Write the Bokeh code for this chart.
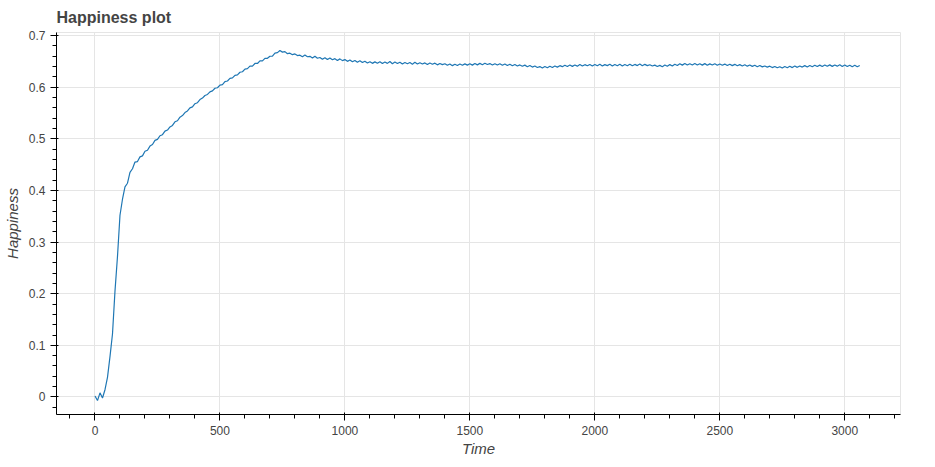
from bokeh.plotting import figure
from bokeh.models import Range1d
from bokeh.embed import file_html
from bokeh.resources import INLINE

time = list(range(0, 3070, 10))

happiness = [
    0.002, -0.007, 0.008, -0.002, 0.014, 0.038, 0.078, 0.122, 0.205, 0.272,
    0.352, 0.383, 0.407, 0.414, 0.435, 0.442, 0.455, 0.456, 0.465, 0.467,
    0.476, 0.478, 0.486, 0.489, 0.497, 0.499, 0.506, 0.508, 0.515, 0.517,
    0.523, 0.526, 0.533, 0.535, 0.542, 0.545, 0.551, 0.554, 0.560, 0.562,
    0.568, 0.570, 0.576, 0.579, 0.584, 0.586, 0.591, 0.593, 0.598, 0.599,
    0.604, 0.605, 0.611, 0.612, 0.617, 0.618, 0.623, 0.624, 0.629, 0.630,
    0.635, 0.636, 0.641, 0.641, 0.646, 0.646, 0.651, 0.651, 0.656, 0.656,
    0.660, 0.660, 0.666, 0.667, 0.671, 0.668, 0.669, 0.665, 0.666, 0.663,
    0.6645, 0.6613, 0.6621, 0.6589, 0.6622, 0.6590, 0.6598, 0.6565, 0.6600, 0.6561,
    0.6576, 0.6541, 0.6572, 0.6535, 0.6568, 0.6533, 0.6553, 0.6519, 0.6549, 0.6515,
    0.6535, 0.6501, 0.6527, 0.6492, 0.6519, 0.6485, 0.6511, 0.6477, 0.6503, 0.6470,
    0.6495, 0.6462, 0.6491, 0.6465, 0.6494, 0.6458, 0.6488, 0.6462, 0.6497, 0.6455,
    0.6487, 0.6458, 0.6485, 0.6451, 0.6480, 0.6456, 0.6479, 0.6447, 0.6482, 0.6450,
    0.6475, 0.6449, 0.6471, 0.6440, 0.6468, 0.6445, 0.6466, 0.6433, 0.6460, 0.6437,
    0.6455, 0.6425, 0.6450, 0.6418, 0.6446, 0.6421, 0.6449, 0.6425, 0.6452, 0.6428,
    0.6455, 0.6428, 0.6460, 0.6433, 0.6462, 0.6437, 0.6465, 0.6441, 0.6458, 0.6432,
    0.6456, 0.6429, 0.6453, 0.6425, 0.6450, 0.6420, 0.6445, 0.6416, 0.6440, 0.6411,
    0.6432, 0.6405, 0.6428, 0.6398, 0.6420, 0.6390, 0.6410, 0.6382, 0.6400, 0.6372,
    0.6400, 0.6376, 0.6405, 0.6382, 0.6412, 0.6389, 0.6418, 0.6398, 0.6425, 0.6402,
    0.6430, 0.6404, 0.6432, 0.6408, 0.6440, 0.6410, 0.6437, 0.6415, 0.6442, 0.6412,
    0.6440, 0.6415, 0.6443, 0.6411, 0.6438, 0.6418, 0.6445, 0.6413, 0.6441, 0.6416,
    0.6444, 0.6412, 0.6439, 0.6417, 0.6446, 0.6414, 0.6442, 0.6419, 0.6448, 0.6415,
    0.6443, 0.6418, 0.6436, 0.6410, 0.6428, 0.6402, 0.6423, 0.6398, 0.6430, 0.6405,
    0.6438, 0.6410, 0.6445, 0.6422, 0.6455, 0.6428, 0.6460, 0.6430, 0.6456, 0.6432,
    0.6458, 0.6430, 0.6455, 0.6428, 0.6457, 0.6426, 0.6452, 0.6429, 0.6455, 0.6424,
    0.6450, 0.6425, 0.6448, 0.6420, 0.6446, 0.6418, 0.6443, 0.6416, 0.6438, 0.6412,
    0.6434, 0.6408, 0.6430, 0.6404, 0.6425, 0.6398, 0.6420, 0.6394, 0.6412, 0.6390,
    0.6408, 0.6380, 0.6402, 0.6376, 0.6398, 0.6372, 0.6400, 0.6378, 0.6405, 0.6380,
    0.6410, 0.6385, 0.6412, 0.6390, 0.6418, 0.6393, 0.6422, 0.6398, 0.6426, 0.6400,
    0.6428, 0.6402, 0.6430, 0.6405, 0.6433, 0.6404, 0.6431, 0.6408, 0.6434, 0.6403,
    0.6430, 0.6402, 0.6427, 0.6398, 0.6424, 0.6396, 0.6420,
]

p = figure(
    width=905, height=459,
    title="Happiness plot",
    x_axis_label="Time", y_axis_label="Happiness",
    x_range=Range1d(-154, 3223), y_range=Range1d(-0.034, 0.706),
    output_backend="svg", toolbar_location=None,
)
p.min_border_bottom = 0
p.title.text_font_size = "16px"
p.title.standoff = 13
for ax in (p.xaxis, p.yaxis):
    ax.axis_label_text_font_size = "15px"
    ax.major_label_text_font_size = "12px"
p.xaxis.axis_label_standoff = 2
p.line(time, happiness, line_color="#1f77b4", line_width=1.2)

open("out.html", "w").write(file_html(p, INLINE))
